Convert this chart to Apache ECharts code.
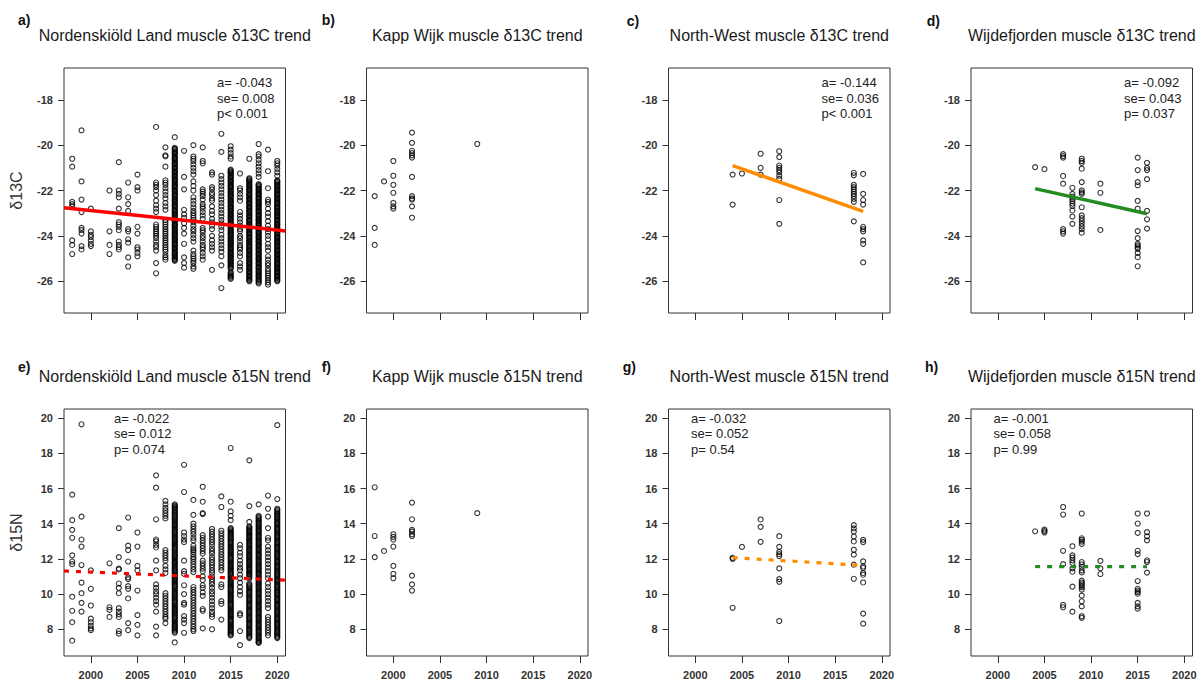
<!DOCTYPE html>
<html>
<head>
<meta charset="utf-8">
<script src="https://cdn.jsdelivr.net/npm/echarts@6/dist/echarts.min.js"></script>
<style>
  html, body { margin: 0; padding: 0; background: #ffffff; }
  #chart { width: 1203px; height: 684px; }
</style>
</head>
<body>
<div id="chart"></div>
<script>
// ---- axis ticks ----
const yearTicks = [2000, 2005, 2010, 2015, 2020];
const c13Ticks = [-26, -24, -22, -20, -18];
const n15Ticks = [8, 10, 12, 14, 16, 18, 20];

// ---- Nordenskiöld Land, muscle δ13C (year, values); busy years have a second batch ----
const nordC13 = [
  [1998, [-20.6, -20.95, -22.5, -22.6, -22.7, -24.2, -24.4, -24.8]],
  [1999, [-19.35, -21.6, -22.4, -22.95, -23.65, -23.75, -23.9, -24.45, -24.6]],
  [2000, [-22.8, -23.8, -23.95, -24.05, -24.2, -24.35, -24.45]],
  [2002, [-22.0, -23.8, -24.4, -24.8]],
  [2003, [-20.75, -22.0, -22.15, -22.3, -22.8, -23.4, -23.5, -23.6, -23.75, -24.25, -24.4, -24.5, -24.6]],
  [2004, [-21.65, -22.3, -22.6, -22.9, -23.7, -23.8, -24.15, -24.3, -24.95, -25.35]],
  [2005, [-21.3, -21.85, -22.0, -23.6, -23.9, -24.5, -24.6, -24.75, -24.9]],
  [2007, [-19.2, -21.65, -21.75, -21.85, -22.0, -22.2, -22.45, -22.65, -22.8, -22.95, -23.5, -23.6, -23.7, -23.8, -23.9, -24.0, -24.1, -24.25, -24.4, -24.5, -24.65, -25.2, -25.65]],
  [2008, [-20.1, -20.45, -20.5, -20.95, -21.55, -21.65, -21.75, -21.9, -22.05, -22.2, -22.35, -22.55, -22.7, -22.85, -23.3, -23.4, -23.5, -23.6, -23.7, -23.8, -23.9, -24.0, -24.1, -24.2, -24.3, -24.4, -24.5, -24.6, -24.7, -24.85, -24.95, -25.05]],
  [2009, [-19.65, -20.12, -20.2, -20.31, -20.38, -20.5, -20.57, -20.66, -20.78, -20.85, -20.97, -21.04, -21.15, -21.22, -21.33, -21.41, -21.52, -21.6, -21.7, -21.79, -21.88, -21.99, -22.06, -22.17, -22.25, -22.36, -22.44, -22.53, -22.65, -22.72, -22.84, -22.91, -23.02, -23.1, -23.21, -23.3, -23.38, -23.49, -23.57, -23.68, -23.76, -23.87, -23.95, -24.05, -24.14, -24.22, -24.33, -24.41, -24.52, -24.6, -24.71, -24.79, -24.88, -24.97, -25.06]],
  [2009, [-20.16, -20.26, -20.35, -20.44, -20.54, -20.62, -20.72, -20.82, -20.91, -21.0, -21.1, -21.19, -21.28, -21.37, -21.47, -21.56, -21.65, -21.75, -21.84, -21.94, -22.02, -22.12, -22.21, -22.3, -22.4, -22.49, -22.59, -22.68, -22.78, -22.88, -22.97, -23.06, -23.16, -23.26, -23.34, -23.44, -23.53, -23.62, -23.72, -23.82, -23.91, -24.0, -24.1, -24.18, -24.28, -24.37, -24.47, -24.56, -24.66, -24.75, -24.84, -24.93, -25.02, -25.1]],
  [2010, [-20.25, -21.4, -21.95, -22.85, -23.05, -23.2, -23.45, -23.65, -23.9, -24.35, -24.95, -25.2, -25.4]],
  [2011, [-20.0, -20.5, -20.6, -20.7, -20.85, -21.0, -21.15, -21.3, -21.6, -21.8, -22.0, -22.3, -22.45, -22.6, -22.75, -22.9, -23.0, -23.1, -23.2, -23.3, -23.4, -23.55, -23.7, -23.8, -23.95, -24.1, -24.25, -24.65, -24.8, -24.9, -25.0, -25.1, -25.2, -25.35, -25.45]],
  [2012, [-20.1, -20.7, -20.8, -21.95, -22.05, -22.15, -22.25, -22.4, -22.6, -22.7, -22.8, -22.95, -23.1, -23.25, -23.65, -23.75, -23.85, -24.0, -24.1, -24.25, -24.4, -24.5, -24.6, -24.75, -24.9, -25.05]],
  [2013, [-21.2, -21.3, -21.85, -21.95, -22.1, -22.2, -22.35, -22.45, -22.7, -22.9, -23.05, -23.25, -23.4, -23.55, -23.7, -24.0, -24.2, -24.35, -24.5, -24.65, -25.5]],
  [2014, [-19.5, -20.3, -21.35, -21.5, -21.65, -21.8, -21.95, -22.1, -22.25, -22.4, -22.55, -22.7, -22.85, -23.0, -23.15, -23.3, -23.45, -23.6, -23.75, -23.95, -24.1, -24.25, -24.4, -24.55, -24.7, -24.9, -25.3, -26.3]],
  [2015, [-20.05, -20.2, -20.35, -20.5, -20.6, -21.08, -21.17, -21.25, -21.36, -21.44, -21.55, -21.63, -21.74, -21.82, -21.9, -22.01, -22.1, -22.19, -22.27, -22.38, -22.46, -22.55, -22.66, -22.74, -22.83, -22.92, -23.03, -23.11, -23.2, -23.29, -23.4, -23.48, -23.57, -23.66, -23.77, -23.85, -23.94, -24.03, -24.12, -24.21, -24.3, -24.39, -24.48, -24.57, -24.68, -24.76, -24.85, -24.94, -25.03, -25.12, -25.21, -25.3, -25.4, -25.6, -25.72, -25.8, -25.9]],
  [2015, [-21.12, -21.21, -21.3, -21.4, -21.5, -21.59, -21.68, -21.78, -21.86, -21.96, -22.05, -22.14, -22.23, -22.32, -22.42, -22.5, -22.6, -22.7, -22.78, -22.88, -22.97, -23.07, -23.16, -23.25, -23.34, -23.44, -23.53, -23.62, -23.72, -23.81, -23.9, -23.98, -24.08, -24.17, -24.26, -24.35, -24.44, -24.53, -24.62, -24.72, -24.8, -24.9, -24.98, -25.08, -25.16, -25.26, -25.35, -25.45, -25.65, -25.76, -25.85]],
  [2016, [-21.25, -21.9, -22.0, -22.15, -22.3, -22.45, -22.95, -23.1, -23.25, -23.4, -23.55, -23.7, -23.8, -24.0, -24.1, -24.25, -24.4, -24.5, -24.6, -24.75, -24.9, -25.2, -25.35, -25.5]],
  [2017, [-20.6, -21.46, -21.55, -21.63, -21.74, -21.82, -21.93, -22.01, -22.12, -22.2, -22.31, -22.39, -22.5, -22.58, -22.69, -22.77, -22.88, -22.96, -23.07, -23.15, -23.26, -23.34, -23.45, -23.53, -23.64, -23.72, -23.83, -23.91, -24.02, -24.1, -24.21, -24.29, -24.4, -24.48, -24.59, -24.67, -24.78, -24.86, -24.97, -25.05, -25.16, -25.24, -25.35, -25.43, -25.54, -25.62, -25.73, -25.81, -25.92, -26.0]],
  [2017, [-21.5, -21.59, -21.68, -21.78, -21.87, -21.97, -22.06, -22.16, -22.25, -22.35, -22.44, -22.54, -22.63, -22.73, -22.82, -22.92, -23.01, -23.11, -23.2, -23.3, -23.39, -23.49, -23.58, -23.68, -23.77, -23.87, -23.96, -24.06, -24.15, -24.25, -24.34, -24.44, -24.53, -24.63, -24.72, -24.82, -24.91, -25.01, -25.1, -25.2, -25.29, -25.39, -25.48, -25.58, -25.67, -25.77, -25.86, -25.96]],
  [2018, [-19.95, -20.4, -20.5, -20.65, -20.8, -20.95, -21.1, -21.25, -21.4, -21.72, -21.8, -21.91, -21.99, -22.1, -22.18, -22.29, -22.37, -22.48, -22.56, -22.67, -22.75, -22.86, -22.94, -23.05, -23.13, -23.24, -23.32, -23.43, -23.51, -23.62, -23.7, -23.81, -23.89, -24.0, -24.08, -24.19, -24.27, -24.38, -24.46, -24.57, -24.65, -24.76, -24.84, -24.95, -25.03, -25.14, -25.22, -25.33, -25.41, -25.52, -25.6, -25.71, -25.79, -25.9, -25.98, -26.1]],
  [2018, [-21.76, -21.85, -21.95, -22.04, -22.14, -22.23, -22.33, -22.42, -22.52, -22.61, -22.71, -22.8, -22.9, -22.99, -23.09, -23.18, -23.28, -23.37, -23.47, -23.56, -23.66, -23.75, -23.85, -23.94, -24.04, -24.13, -24.23, -24.32, -24.42, -24.51, -24.61, -24.7, -24.8, -24.89, -24.99, -25.08, -25.18, -25.27, -25.37, -25.46, -25.56, -25.65, -25.75, -25.84, -25.94, -26.04]],
  [2019, [-20.2, -21.15, -21.9, -22.4, -22.5, -22.6, -22.8, -23.0, -23.15, -23.35, -23.55, -23.7, -23.85, -24.0, -24.15, -24.35, -24.5, -24.65, -24.9, -25.05, -25.2, -25.3, -25.45, -25.55, -25.65, -25.75, -25.85, -25.95, -26.05, -26.15]],
  [2020, [-20.7, -20.8, -20.9, -21.05, -21.2, -21.35, -21.55, -21.63, -21.74, -21.82, -21.93, -22.01, -22.12, -22.2, -22.31, -22.39, -22.5, -22.58, -22.69, -22.77, -22.88, -22.96, -23.07, -23.15, -23.26, -23.34, -23.45, -23.53, -23.64, -23.72, -23.83, -23.91, -24.02, -24.1, -24.21, -24.29, -24.4, -24.48, -24.59, -24.67, -24.78, -24.86, -24.97, -25.05, -25.16, -25.24, -25.35, -25.43, -25.54, -25.62, -25.73, -25.81, -25.92, -26.0]],
  [2020, [-21.59, -21.68, -21.78, -21.87, -21.97, -22.06, -22.16, -22.25, -22.35, -22.44, -22.54, -22.63, -22.73, -22.82, -22.92, -23.01, -23.11, -23.2, -23.3, -23.39, -23.49, -23.58, -23.68, -23.77, -23.87, -23.96, -24.06, -24.15, -24.25, -24.34, -24.44, -24.53, -24.63, -24.72, -24.82, -24.91, -25.01, -25.1, -25.2, -25.29, -25.39, -25.48, -25.58, -25.67, -25.77, -25.86, -25.96]]
];

// ---- Kapp Wijk, muscle δ13C ----
const kappC13 = [
  [1998, [-22.25, -23.65, -24.4]],
  [1999, [-21.6]],
  [2000, [-20.7, -21.35, -21.75, -22.1, -22.55, -22.7, -22.8]],
  [2002, [-19.45, -19.9, -20.25, -20.35, -20.45, -20.55, -21.4, -22.25, -22.35, -22.4, -22.7, -23.2]],
  [2009, [-19.95]]
];

// ---- North-West, muscle δ13C ----
const nwC13 = [
  [2004, [-21.3, -22.62]],
  [2005, [-21.25]],
  [2007, [-20.38, -21.0, -21.3]],
  [2009, [-20.27, -20.53, -20.9, -21.0, -21.1, -21.2, -21.35, -21.49, -22.42, -23.47]],
  [2017, [-21.22, -21.33, -21.75, -21.85, -21.95, -22.05, -22.15, -22.25, -22.37, -22.5, -23.36]],
  [2018, [-21.27, -22.15, -22.42, -22.62, -23.6, -23.7, -23.8, -24.2, -24.35, -25.17]]
];

// ---- Wijdefjorden, muscle δ13C ----
const wijC13 = [
  [2004, [-20.97]],
  [2005, [-21.06]],
  [2007, [-20.4, -20.48, -20.55, -21.36, -21.7, -23.7, -23.8, -23.9]],
  [2008, [-21.88, -22.15, -22.27, -22.37, -22.47, -22.58, -22.68, -22.88, -23.15, -23.47]],
  [2009, [-20.6, -20.7, -20.78, -21.04, -21.63, -22.0, -22.08, -22.15, -22.74, -23.1, -23.22, -23.34, -23.46, -23.58, -23.7, -23.86]],
  [2011, [-21.7, -22.1, -23.74]],
  [2015, [-20.55, -21.1, -21.63, -21.77, -22.46, -22.8, -23.79, -24.1, -24.35, -24.42, -24.5, -24.57, -24.75, -24.94, -25.34]],
  [2016, [-20.78, -21.0, -21.1, -21.5, -22.9, -23.27, -23.68]]
];

// ---- Nordenskiöld Land, muscle δ15N ----
const nordN15 = [
  [1998, [15.65, 14.2, 13.65, 13.2, 12.2, 11.85, 11.7, 9.85, 9.05, 8.4, 7.35]],
  [1999, [19.65, 14.4, 13.1, 12.7, 11.65, 10.65, 10.05, 9.5, 9.0]],
  [2000, [11.35, 10.3, 9.35, 8.6, 8.4, 8.2, 8.05, 7.95]],
  [2002, [11.75, 9.25, 9.1, 8.7]],
  [2003, [13.75, 12.1, 11.45, 11.4, 10.6, 10.35, 10.05, 9.2, 9.0, 8.85, 8.7, 7.9, 7.75]],
  [2004, [14.35, 12.75, 12.5, 11.85, 10.95, 10.85, 10.45, 10.3, 9.75, 8.35, 7.95]],
  [2005, [13.5, 12.7, 11.6, 11.35, 10.2, 8.8, 8.25, 7.65]],
  [2007, [16.75, 16.05, 14.25, 13.1, 13.0, 12.8, 12.65, 11.9, 11.35, 10.55, 10.35, 10.15, 10.0, 9.8, 9.6, 9.4, 9.0, 8.15, 7.65]],
  [2008, [15.3, 15.1, 14.9, 14.75, 14.6, 14.45, 14.3, 12.5, 12.35, 12.2, 12.05, 11.9, 11.6, 11.4, 11.2, 10.05, 9.9, 9.75, 9.6, 9.45, 9.3, 9.15, 9.0, 8.85, 8.7, 8.6, 8.35]],
  [2009, [15.1, 14.97, 14.85, 14.7, 14.58, 14.45, 14.31, 14.19, 14.05, 13.92, 13.8, 13.66, 13.53, 13.4, 13.27, 13.14, 13.0, 12.88, 12.75, 12.61, 12.49, 12.36, 12.22, 12.1, 11.96, 11.83, 11.7, 11.57, 11.44, 11.31, 11.18, 11.05, 10.92, 10.79, 10.66, 10.53, 10.4, 10.27, 10.14, 10.01, 9.88, 9.75, 9.62, 9.49, 9.36, 9.23, 9.1, 8.97, 8.84, 8.71, 8.58, 8.45, 8.32, 8.19, 8.06, 7.93, 7.8, 7.25]],
  [2009, [15.03, 14.91, 14.78, 14.64, 14.51, 14.38, 14.25, 14.12, 13.98, 13.86, 13.73, 13.6, 13.47, 13.33, 13.2, 13.07, 12.94, 12.81, 12.68, 12.55, 12.42, 12.29, 12.16, 12.03, 11.9, 11.77, 11.63, 11.5, 11.37, 11.24, 11.11, 10.98, 10.85, 10.72, 10.59, 10.46, 10.33, 10.2, 10.07, 9.94, 9.81, 9.68, 9.55, 9.42, 9.29, 9.16, 9.03, 8.9, 8.77, 8.64, 8.51, 8.38, 8.25, 8.12, 7.99, 7.86]],
  [2010, [17.35, 15.8, 13.5, 13.3, 13.1, 12.95, 11.9, 11.3, 11.15, 10.5, 10.0, 9.5, 9.4, 8.75, 8.55, 8.35, 7.8]],
  [2011, [15.35, 14.5, 14.0, 13.85, 13.7, 13.55, 13.4, 13.2, 13.05, 12.75, 12.6, 12.5, 12.4, 12.25, 12.1, 12.0, 11.85, 11.7, 11.55, 11.4, 11.25, 10.4, 10.25, 10.1, 9.95, 9.8, 9.65, 9.5, 9.35, 9.2, 9.05, 8.9, 8.75, 8.6, 8.45, 8.3, 8.15, 8.0, 7.9]],
  [2012, [16.1, 15.25, 14.6, 14.55, 13.35, 13.2, 13.05, 12.9, 12.75, 12.6, 12.45, 12.3, 11.9, 11.75, 11.6, 11.45, 11.3, 11.0, 10.8, 10.5, 10.35, 10.1, 9.9, 9.15, 9.05, 8.05]],
  [2013, [13.7, 13.55, 13.4, 13.25, 13.1, 12.95, 12.8, 12.6, 12.45, 12.3, 12.1, 11.95, 11.8, 11.65, 11.5, 11.35, 11.2, 11.0, 10.85, 10.7, 10.55, 10.35, 10.15, 10.0, 9.8, 9.6, 9.4, 9.2, 9.0, 8.85, 8.7, 8.0]],
  [2014, [15.55, 14.95, 13.6, 13.45, 13.3, 13.15, 13.0, 12.85, 12.7, 12.55, 12.4, 12.25, 12.1, 11.95, 11.8, 11.65, 11.5, 11.35, 10.55, 10.4, 9.6, 9.45, 8.55]],
  [2015, [18.3, 15.25, 14.7, 14.45, 14.2, 13.75, 13.62, 13.49, 13.36, 13.22, 13.1, 12.96, 12.83, 12.7, 12.57, 12.44, 12.31, 12.18, 12.05, 11.92, 11.79, 11.66, 11.53, 11.4, 11.27, 11.14, 11.01, 10.88, 10.75, 10.62, 10.49, 10.36, 10.23, 10.1, 9.97, 9.84, 9.71, 9.58, 9.45, 9.32, 9.19, 9.06, 8.93, 8.8, 8.67, 8.54, 8.41, 8.28, 8.15, 8.02, 7.89, 7.76, 7.65]],
  [2015, [13.69, 13.55, 13.42, 13.29, 13.16, 13.03, 12.9, 12.77, 12.63, 12.5, 12.37, 12.24, 12.11, 11.98, 11.85, 11.72, 11.59, 11.46, 11.33, 11.2, 11.07, 10.94, 10.81, 10.68, 10.55, 10.42, 10.29, 10.16, 10.03, 9.9, 9.77, 9.64, 9.51, 9.38, 9.25, 9.12, 8.99, 8.86, 8.73, 8.6, 8.47, 8.34, 8.21, 8.08, 7.95, 7.82, 7.7]],
  [2016, [12.8, 12.6, 12.35, 12.15, 11.9, 11.7, 11.5, 11.35, 11.1, 10.9, 10.65, 10.4, 10.15, 9.95, 8.9, 8.8, 7.9, 7.1]],
  [2017, [17.6, 15.0, 14.1, 13.85, 13.72, 13.58, 13.45, 13.31, 13.18, 13.04, 12.91, 12.77, 12.64, 12.5, 12.37, 12.23, 12.1, 11.96, 11.83, 11.69, 11.56, 11.42, 11.29, 11.15, 11.02, 10.88, 10.6, 10.46, 10.33, 10.19, 10.06, 9.92, 9.79, 9.65, 9.52, 9.38, 9.25, 9.11, 8.98, 8.84, 8.71, 8.57, 8.44, 8.3, 8.17, 8.03, 7.9, 7.76, 7.63, 7.5]],
  [2017, [13.79, 13.65, 13.52, 13.38, 13.25, 13.11, 12.98, 12.84, 12.71, 12.57, 12.44, 12.3, 12.17, 12.03, 11.9, 11.76, 11.63, 11.49, 11.36, 11.22, 11.09, 10.95, 10.53, 10.4, 10.26, 10.13, 9.99, 9.86, 9.72, 9.59, 9.45, 9.32, 9.18, 9.05, 8.91, 8.78, 8.64, 8.51, 8.37, 8.24, 8.1, 7.97, 7.83, 7.7, 7.56]],
  [2018, [15.1, 14.45, 14.32, 14.18, 14.05, 13.91, 13.78, 13.64, 13.51, 13.37, 13.24, 13.1, 12.97, 12.83, 12.7, 12.56, 12.43, 12.29, 12.16, 12.02, 11.89, 11.75, 11.62, 11.48, 11.35, 11.21, 11.08, 10.94, 10.81, 10.67, 10.54, 10.4, 10.27, 10.13, 10.0, 9.86, 9.73, 9.59, 9.46, 9.32, 9.19, 9.05, 8.92, 8.78, 8.65, 8.51, 8.38, 8.24, 8.11, 7.97, 7.84, 7.7, 7.57, 7.43, 7.3, 7.22]],
  [2018, [14.39, 14.25, 14.12, 13.98, 13.85, 13.71, 13.58, 13.44, 13.31, 13.17, 13.04, 12.9, 12.77, 12.63, 12.5, 12.36, 12.23, 12.09, 11.96, 11.82, 11.69, 11.55, 11.42, 11.28, 11.15, 11.01, 10.88, 10.74, 10.61, 10.47, 10.34, 10.2, 10.07, 9.93, 9.8, 9.66, 9.53, 9.39, 9.26, 9.12, 8.99, 8.85, 8.72, 8.58, 8.45, 8.31, 8.18, 8.04, 7.91, 7.77, 7.64, 7.5, 7.37, 7.26]],
  [2019, [15.6, 14.85, 14.4, 13.75, 13.2, 13.05, 12.7, 12.5, 12.3, 12.1, 11.9, 11.7, 11.5, 11.3, 11.1, 10.9, 10.6, 10.4, 10.2, 10.0, 9.8, 9.6, 9.4, 9.2, 8.7, 8.55, 8.4, 8.25, 8.1, 7.95, 7.8, 7.65]],
  [2020, [19.6, 15.4, 14.85, 14.72, 14.58, 14.45, 14.31, 14.18, 14.04, 13.91, 13.77, 13.64, 13.5, 13.37, 13.23, 13.1, 12.96, 12.83, 12.69, 12.56, 12.42, 12.29, 12.15, 12.02, 11.88, 11.75, 11.61, 11.48, 11.34, 11.21, 11.07, 10.94, 10.8, 10.67, 10.53, 10.4, 10.26, 10.13, 9.99, 9.86, 9.72, 9.59, 9.45, 9.32, 9.18, 9.05, 8.91, 8.78, 8.64, 8.51, 8.37, 8.24, 8.1, 7.97, 7.83, 7.7, 7.56]],
  [2020, [14.79, 14.65, 14.52, 14.38, 14.25, 14.11, 13.98, 13.84, 13.71, 13.57, 13.44, 13.3, 13.17, 13.03, 12.9, 12.76, 12.63, 12.49, 12.36, 12.22, 12.09, 11.95, 11.82, 11.68, 11.55, 11.41, 11.28, 11.14, 11.01, 10.87, 10.74, 10.6, 10.47, 10.33, 10.2, 10.06, 9.93, 9.79, 9.66, 9.52, 9.39, 9.25, 9.12, 8.98, 8.85, 8.71, 8.58, 8.44, 8.31, 8.17, 8.04, 7.9, 7.77, 7.63, 7.5]]
];

// ---- Kapp Wijk, muscle δ15N ----
const kappN15 = [
  [1998, [16.07, 13.3, 12.1]],
  [1999, [12.45]],
  [2000, [13.4, 13.25, 13.1, 12.7, 11.6, 11.15, 10.9]],
  [2002, [15.2, 14.25, 13.65, 13.55, 13.4, 13.3, 11.05, 10.55, 10.2]],
  [2009, [14.6]]
];

// ---- North-West, muscle δ15N ----
const nwN15 = [
  [2004, [12.06, 12.0, 9.22]],
  [2005, [12.68]],
  [2007, [14.24, 13.82, 12.97]],
  [2009, [13.29, 12.68, 12.4, 12.27, 12.16, 11.46, 10.85, 10.7, 8.47]],
  [2017, [13.92, 13.73, 13.55, 13.27, 12.99, 12.52, 12.24, 11.67, 10.87]],
  [2018, [13.08, 12.95, 11.86, 11.57, 11.48, 11.2, 11.1, 10.66, 8.89, 8.32]]
];

// ---- Wijdefjorden, muscle δ15N ----
const wijN15 = [
  [2004, [13.57]],
  [2005, [13.66, 13.58, 13.5]],
  [2007, [14.95, 14.52, 12.46, 11.7, 9.38, 9.25]],
  [2008, [12.72, 12.2, 12.07, 11.92, 11.77, 11.46, 11.27, 10.42, 9.0]],
  [2009, [14.58, 13.17, 13.08, 12.98, 12.85, 11.82, 11.69, 11.54, 11.35, 11.23, 10.76, 10.66, 10.57, 10.47, 10.38, 10.25, 9.91, 9.59, 9.3, 8.74, 8.65]],
  [2011, [11.89, 11.46, 11.14]],
  [2015, [14.58, 14.01, 13.48, 12.46, 12.27, 10.74, 10.3, 10.2, 10.11, 10.02, 9.5, 9.3, 9.17]],
  [2016, [14.58, 13.52, 13.28, 13.05, 11.92, 11.82, 11.22]]
];

// ---- panel texts ----
const panelLetters = ['a)', 'b)', 'c)', 'd)', 'e)', 'f)', 'g)', 'h)'];
const panelTitles = [
  'Nordenskiöld Land muscle δ13C trend', 'Kapp Wijk muscle δ13C trend',
  'North-West muscle δ13C trend', 'Wijdefjorden muscle δ13C trend',
  'Nordenskiöld Land muscle δ15N trend', 'Kapp Wijk muscle δ15N trend',
  'North-West muscle δ15N trend', 'Wijdefjorden muscle δ15N trend'
];
const rowAxisNames = ['δ13C', 'δ15N'];

// regression statistics (slope a, standard error, p value)
const slopeA = [-0.043, null, -0.144, -0.092, -0.022, null, -0.032, -0.001];
const slopeSE = ['0.008', null, '0.036', '0.043', '0.012', null, '0.052', '0.058'];
const slopeP = ['p< 0.001', null, 'p< 0.001', 'p= 0.037', 'p= 0.074', null, 'p= 0.54', 'p= 0.99'];
// a point each fitted line passes through, and the years it covers
const trendAnchor = [[2009, -23.27], null, [2011, -21.91], [2010, -22.47], [2009, 11.05], null, [2011, 11.85], [2010, 11.56]];
const trendYears = [[1997.12, 2020.88], null, [2004, 2018], [2004, 2016], [1997.12, 2020.88], null, [2004, 2018], [2004, 2016]];
const trendColors = ['#ff0000', null, '#ff8c00', '#228b22', '#ff0000', null, '#ff8c00', '#228b22'];

const panelData = [nordC13, kappC13, nwC13, wijC13, nordN15, kappN15, nwN15, wijN15];

// ---- layout ----
const FONT = '"Liberation Sans", Arial, Helvetica, sans-serif';
const colLeft = [64, 366.5, 668.5, 971];
const boxW = 221.5;
const rowTop = [68, 409];
const rowH = [245, 247];
const xRange = [1997.12, 2020.88];
const yRanges = [[-27.4, -16.6], [6.48, 20.52]];
const letterPos = [[18, 20], [321.7, 20], [626.7, 21], [926.7, 21], [18, 367], [321.7, 367], [622.7, 367], [925, 367]];
const titleY = [35, 376];
// where the statistics block starts inside each box
const statsOffset = [[-68.5, 14.5], null, [-68.5, 14.5], [-68.5, 14.5], [50, 9], null, [22.5, 9], [22.5, 9]];

const plainNumber = function (v) { return String(v); };
const grids = [], xAxes = [], yAxes = [], series = [], graphics = [];

for (let i = 0; i < 8; i++) {
  const row = i < 4 ? 0 : 1;
  const col = i % 4;
  const left = colLeft[col], top = rowTop[row], h = rowH[row];
  grids.push({
    left: left, top: top, width: boxW, height: h,
    show: true, borderColor: '#333', borderWidth: 1, backgroundColor: 'transparent'
  });
  xAxes.push({
    gridIndex: i, type: 'value', min: xRange[0], max: xRange[1],
    axisLine: { show: false }, splitLine: { show: false },
    axisTick: { show: true, length: 7, inside: false, lineStyle: { color: '#333', width: 1 }, customValues: yearTicks },
    axisLabel: {
      show: row === 1, customValues: yearTicks, margin: 13, formatter: plainNumber,
      fontFamily: FONT, fontSize: 11, fontWeight: 'bold', color: '#333'
    }
  });
  const yt = row === 0 ? c13Ticks : n15Ticks;
  yAxes.push({
    gridIndex: i, type: 'value', min: yRanges[row][0], max: yRanges[row][1],
    axisLine: { show: false }, splitLine: { show: false },
    axisTick: { show: true, length: 6, inside: false, lineStyle: { color: '#333', width: 1 }, customValues: yt },
    axisLabel: {
      show: true, customValues: yt, margin: 11, formatter: plainNumber,
      fontFamily: FONT, fontSize: 11, fontWeight: 'bold', color: '#333'
    }
  });

  // sample points
  const pts = [];
  panelData[i].forEach(function (entry) {
    entry[1].forEach(function (v) { pts.push([entry[0], v]); });
  });
  series.push({
    type: 'scatter', xAxisIndex: i, yAxisIndex: i, data: pts,
    symbol: 'circle', symbolSize: 5, silent: true,
    itemStyle: { color: 'rgba(0,0,0,0)', borderColor: '#000', borderWidth: 1.1 },
    emphasis: { disabled: true }, z: 2
  });

  // fitted trend
  if (slopeA[i] !== null) {
    const a = slopeA[i], anc = trendAnchor[i], yrs = trendYears[i];
    const lineData = yrs.map(function (x) { return [x, anc[1] + a * (x - anc[0])]; });
    series.push({
      type: 'line', xAxisIndex: i, yAxisIndex: i, data: lineData,
      showSymbol: false, silent: true, clip: true,
      lineStyle: {
        color: trendColors[i], width: row === 0 ? 3.5 : 3.2,
        type: row === 0 ? 'solid' : [5, 7], cap: 'butt'
      },
      emphasis: { disabled: true }, z: 3
    });

    const so = statsOffset[i];
    const sx = so[0] < 0 ? left + boxW + so[0] : left + so[0];
    const sy = top + so[1];
    const lines = ['a= ' + a.toFixed(3), 'se= ' + slopeSE[i], slopeP[i]];
    lines.forEach(function (t, k) {
      graphics.push({
        type: 'text', x: sx, y: sy + k * 15.7, silent: true,
        style: { text: t, font: '13px ' + FONT, fill: '#222', align: 'left', verticalAlign: 'middle' }
      });
    });
  }

  // panel letter and title
  graphics.push({
    type: 'text', x: letterPos[i][0], y: letterPos[i][1], silent: true,
    style: { text: panelLetters[i], font: 'bold 14px ' + FONT, fill: '#111', align: 'left', verticalAlign: 'middle' }
  });
  graphics.push({
    type: 'text', x: left + boxW / 2, y: titleY[row], silent: true,
    style: { text: panelTitles[i], font: '16px ' + FONT, fill: '#1a1a1a', align: 'center', verticalAlign: 'middle' }
  });
}

// row axis names
for (let r = 0; r < 2; r++) {
  graphics.push({
    type: 'text', x: 16.5, y: rowTop[r] + rowH[r] / 2, rotation: Math.PI / 2, silent: true,
    style: { text: rowAxisNames[r], font: '16px ' + FONT, fill: '#333', align: 'center', verticalAlign: 'middle' }
  });
}

const chart = echarts.init(document.getElementById('chart'), null, { renderer: 'svg', width: 1203, height: 684 });
chart.setOption({
  animation: false,
  backgroundColor: '#ffffff',
  grid: grids,
  xAxis: xAxes,
  yAxis: yAxes,
  series: series,
  graphic: graphics
});
</script>
</body>
</html>
